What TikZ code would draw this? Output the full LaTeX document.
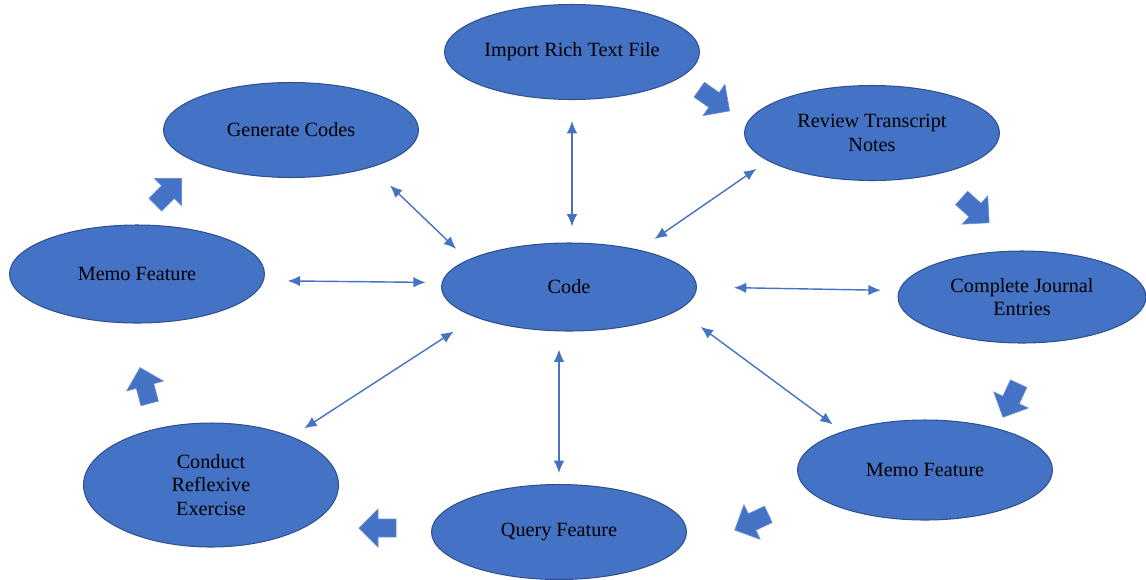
\documentclass[tikz,border=0pt]{standalone}
\usepackage{fontspec}
\setmainfont{Liberation Serif}
\usetikzlibrary{shapes.geometric,arrows.meta}
\definecolor{boxblue}{HTML}{4472C4}
\definecolor{edgeblue}{HTML}{2F528F}
\definecolor{linkblue}{HTML}{4472C4}
\tikzset{
  stage/.style={ellipse, fill=boxblue, draw=edgeblue, line width=0.6pt,
    minimum width=5.1cm, minimum height=1.9cm, inner sep=0pt,
    align=center, font=\fontsize{11.5}{13.5}\selectfont, text=black},
  link/.style={draw=linkblue, line width=0.8pt,
    {Latex[length=7pt,width=6pt]}-{Latex[length=7pt,width=6pt]}},
  gaps/.style 2 args={shorten <=#1*0.02cm, shorten >=#2*0.02cm},
  pics/flow/.style={code={
    \fill[boxblue, draw=boxblue!80!white, line width=0.4pt, x=1cm, y=1cm]
      (-0.36,-0.18) -- (0,-0.18) -- (0,-0.38) -- (0.38,0) -- (0,0.38)
      -- (0,0.18) -- (-0.36,0.18) -- cycle;
  }}
}
\begin{document}
\begin{tikzpicture}[x=0.02cm, y=-0.02cm]
\useasboundingbox (0,0) rectangle (1146,579);

% outer ring of stages
\node[stage] (import)   at (572,52)  {Import Rich Text File};
\node[stage] (review)   at (872,133) {Review Transcript\\Notes};
\node[stage, minimum width=4.96cm, minimum height=1.84cm] (journal) at (1022,297) {Complete Journal\\Entries};
\node[stage, minimum height=2.0cm] (memoR) at (925,470) {Memo Feature};
\node[stage] (query)    at (559,532) {Query Feature};
\node[stage, minimum height=2.48cm] (reflex) at (211,485) {Conduct\\Reflexive\\Exercise};
\node[stage, minimum height=1.96cm] (memoL) at (137,274) {Memo Feature};
\node[stage] (generate) at (291,130) {Generate Codes};

% central stage
\node[stage, minimum height=1.76cm] (code) at (569,287) {Code};

% two-way links between the centre and each stage
\draw[link, gaps={26}{16}] (generate.-25.4) -- (code.165.2);
\draw[link, gaps={21}{16}] (import.south) -- (import.south |- code.north);
\draw[link, gaps={14}{19}] (review.-165.4) -- (code.28.5);
\draw[link, gaps={24}{16}] (memoL.-3.2) -- (code.178.7);
\draw[link, gaps={37}{18}] (code.0) -- (journal.177.2);
\draw[link, gaps={28}{12}] (code.-12) -- (memoR.155.5);
\draw[link, gaps={18}{11}] (query.north |- code.south) -- (query.north);
\draw[link, gaps={26}{15}] (code.-162.2) -- (reflex.31.7);

% block arrows showing the order of the cycle
\pic[rotate=-35]  at (714,100) {flow};
\pic[rotate=-42]  at (975,210) {flow};
\pic[rotate=-115] at (1011,400) {flow};
\pic[rotate=205]  at (752,522) {flow};
\pic[rotate=180]  at (378,528) {flow};
\pic[rotate=105]  at (145,386) {flow};
\pic[rotate=45]   at (168,192) {flow};
\end{tikzpicture}
\end{document}
